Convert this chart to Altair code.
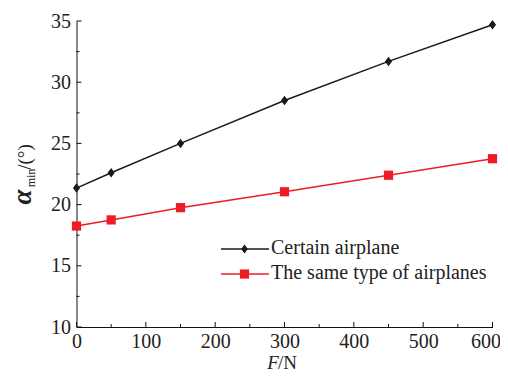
import altair as alt
import pandas as pd

F = [0, 50, 150, 300, 450, 600]
certain = [21.35, 22.6, 25.0, 28.5, 31.7, 34.7]
same_type = [18.25, 18.75, 19.75, 21.05, 22.4, 23.75]
series_names = ["Certain airplane", "The same type of airplanes"]
colors = ["#1a1a1a", "#ee1c24"]

x_major = [0, 100, 200, 300, 400, 500, 600]
x_minor = [50, 150, 250, 350, 450, 550]
y_major = [10, 15, 20, 25, 30, 35]
y_minor = [12.5, 17.5, 22.5, 27.5, 32.5]

W, H = 416, 306
FONT = "Liberation Serif"
TXT = "#222"

df = pd.DataFrame({
    "F": F * 2,
    "alpha": certain + same_type,
    "series": [series_names[0]] * len(F) + [series_names[1]] * len(F),
})

xs = alt.Scale(domain=[0, 600], nice=False)
ys = alt.Scale(domain=[10, 35], nice=False)

xaxis = alt.Axis(values=x_major, ticks=False, grid=False, labelFont=FONT,
                 labelFontSize=20, labelColor=TXT, labelPadding=4,
                 domainColor="#111", title=None, labelFlush=False,
                 labelOffset={"condition": {"test": "datum.value == 600", "value": -7},
                              "value": 0})
yaxis = alt.Axis(values=y_major, ticks=False, grid=False, labelFont=FONT,
                 labelFontSize=20, labelColor=TXT, labelPadding=6,
                 domainColor="#111", title=None)

base = alt.Chart(df)

diamond = "M0,-1L0.75,0L0,1L-0.75,0Z"

lines = []
points = []
for i, name in enumerate(series_names):
    sub = base.transform_filter(alt.datum.series == name)
    lines.append(sub.mark_line(color=colors[i], strokeWidth=1.5).encode(
        x=alt.X("F:Q", scale=xs, axis=xaxis),
        y=alt.Y("alpha:Q", scale=ys, axis=yaxis),
    ))
    shape = diamond if i == 0 else "square"
    size = 90 if i == 0 else 85
    points.append(sub.mark_point(shape=shape, filled=True, size=size,
                                 color=colors[i], opacity=1).encode(
        x=alt.X("F:Q", scale=xs), y=alt.Y("alpha:Q", scale=ys)))

# inward ticks
def xticks(vals, ln):
    return alt.Chart(pd.DataFrame({"v": vals})).mark_rule(color="#111", strokeWidth=1).encode(
        x=alt.X("v:Q", scale=xs), y=alt.value(H), y2=alt.value(H - ln))

def yticks(vals, ln):
    return alt.Chart(pd.DataFrame({"v": vals})).mark_rule(color="#111", strokeWidth=1).encode(
        y=alt.Y("v:Q", scale=ys), x=alt.value(0), x2=alt.value(ln))

ticks = [xticks(x_major, 5), xticks(x_minor, 3), yticks(y_major, 5), yticks(y_minor, 3)]

# legend
one = pd.DataFrame({"k": [0]})
legend = []
leg_y = [228, 253]
for i, name in enumerate(series_names):
    c = alt.Chart(one)
    legend.append(c.mark_rule(color=colors[i], strokeWidth=1.5).encode(
        x=alt.value(144.5), x2=alt.value(192.5), y=alt.value(leg_y[i])))
    shape = diamond if i == 0 else "square"
    size = 80 if i == 0 else 85
    legend.append(c.mark_point(shape=shape, filled=True, size=size, color=colors[i],
                               opacity=1).encode(
        x=alt.value(168), y=alt.value(leg_y[i])))
    legend.append(c.mark_text(text=name, font=FONT, fontSize=20, color=TXT,
                              align="left", baseline="middle").encode(
        x=alt.value(194.5), y=alt.value(leg_y[i] - 1)))

# axis titles
titles = [
    alt.Chart(one).mark_text(text="F", font=FONT, fontSize=19, fontStyle="italic",
                             color=TXT, align="center", baseline="middle").encode(
        x=alt.value(196.5), y=alt.value(342)),
    alt.Chart(one).mark_text(text="/N", font=FONT, fontSize=19,
                             color=TXT, align="left", baseline="middle").encode(
        x=alt.value(201.5), y=alt.value(342)),
    alt.Chart(one).mark_text(text="α", font=FONT, fontSize=27, fontStyle="italic",
                             fontWeight="bold", color=TXT, angle=270,
                             align="center", baseline="middle").encode(
        x=alt.value(-53.5), y=alt.value(176)),
    alt.Chart(one).mark_text(text="min", font=FONT, fontSize=12,
                             color=TXT, angle=270,
                             align="center", baseline="middle").encode(
        x=alt.value(-46), y=alt.value(157)),
    alt.Chart(one).mark_text(text="/(°)", font=FONT, fontSize=19,
                             color=TXT, angle=270,
                             align="center", baseline="middle").encode(
        x=alt.value(-51.5), y=alt.value(136)),
]

chart = alt.layer(*ticks, *lines, *points, *legend, *titles).properties(
    width=W, height=H,
    autosize=alt.AutoSizeParams(type="none"),
    padding={"left": 68.5, "top": 13, "right": 7.5, "bottom": 45},
).configure_view(stroke=None).configure_axis(domainWidth=1)

chart.save("out.html", embed_options={"renderer": "svg", "actions": False})
